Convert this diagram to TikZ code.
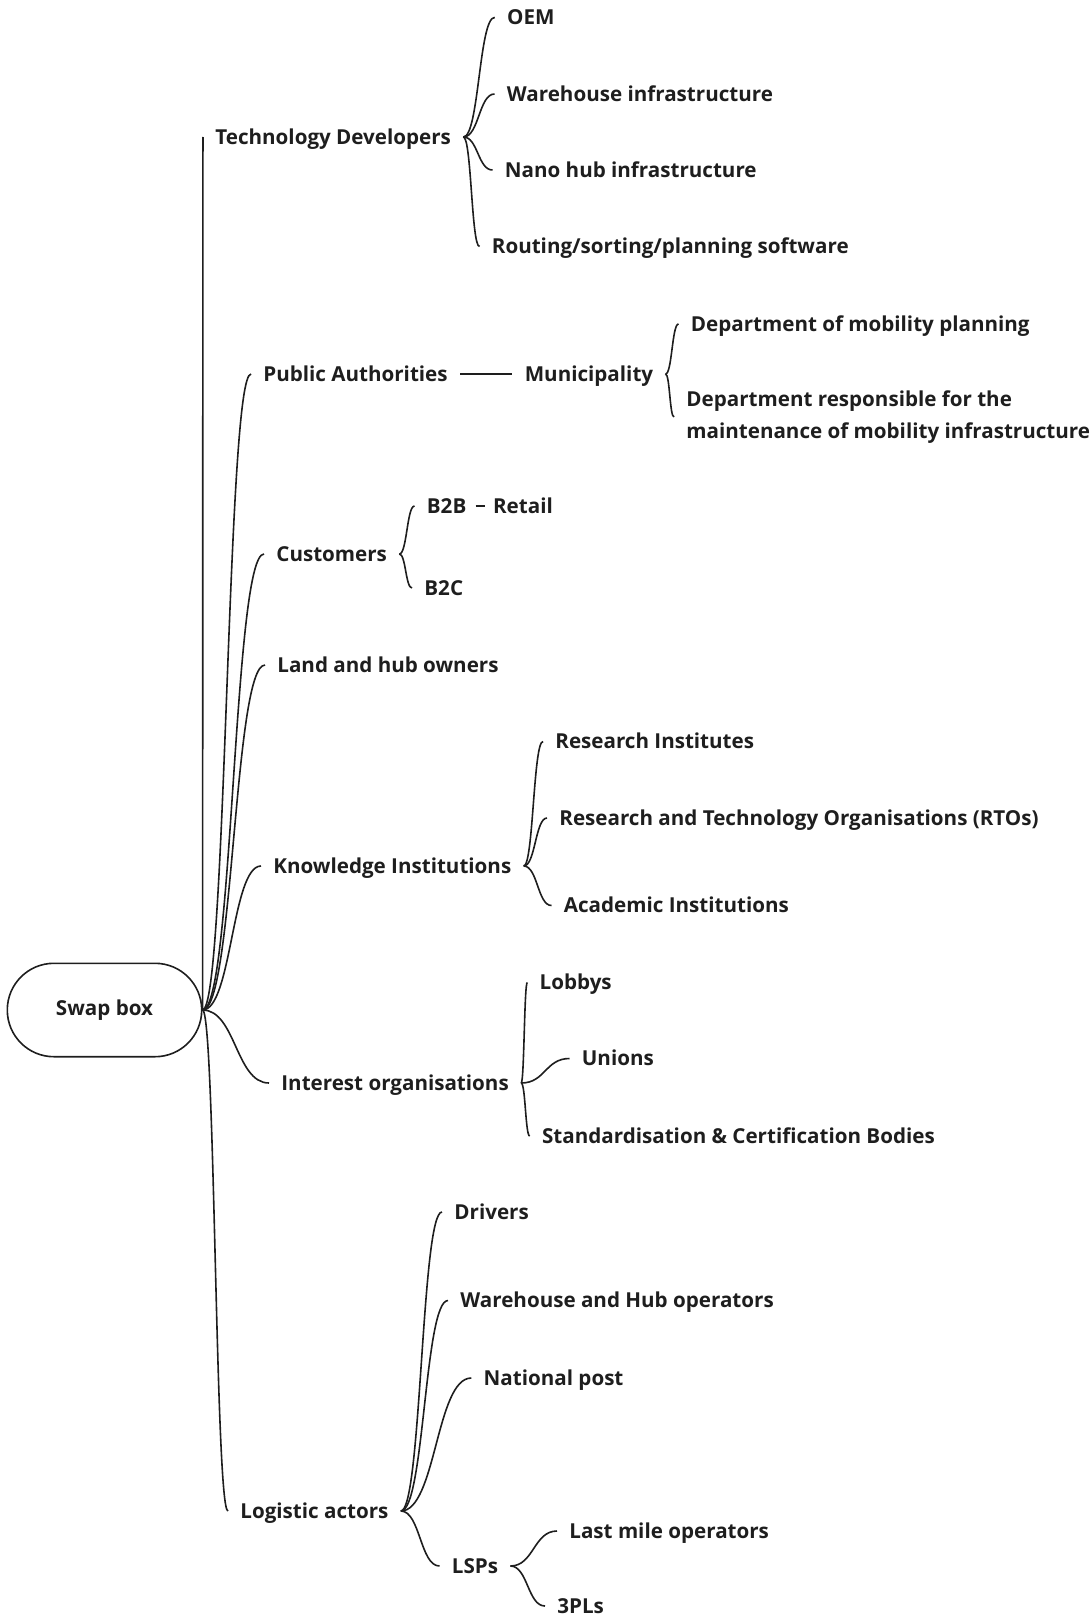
\documentclass[tikz,border=0pt]{standalone}
\usepackage{fontspec}
\setmainfont{Open Sans}
\usetikzlibrary{calc}
\definecolor{ink}{HTML}{1E1E1E}
\begin{document}
\begin{tikzpicture}[x=0.5pt,y=-0.5pt,
  every node/.style={font=\bfseries\fontsize{10.3}{15.6}\selectfont, text=ink},
  lbl/.style={anchor=west, inner xsep=6pt, inner ysep=0pt, text height=7.4pt, text depth=0pt},
  link/.style={draw=ink, line width=0.8pt,
    to path={.. controls ($(\tikztostart)!0.5!(\tikztostart -| \tikztotarget)$) and ($(\tikztotarget)!0.5!(\tikztotarget -| \tikztostart)$) .. (\tikztotarget) \tikztonodes}},
  rootbox/.style={draw=ink, line width=0.8pt, rounded corners=23.3pt, minimum width=97.2pt, minimum height=46.7pt, inner sep=0pt}
]
\useasboundingbox (0,0) rectangle (1091,1616);

\node[rootbox] (root) at (104.5,1010) {Swap box};

% level 1
\node[lbl] (td) at (203,137) {Technology Developers};
\node[lbl] (pa) at (251,374) {Public Authorities};
\node[lbl] (cu) at (264,554) {Customers};
\node[lbl] (lh) at (265,665) {Land and hub owners};
\node[lbl] (ki) at (261,866) {Knowledge Institutions};
\node[lbl] (io) at (269,1083) {Interest organisations};
\node[lbl] (la) at (228,1511) {Logistic actors};

% technology developers
\node[lbl] (oem) at (494.7,17.4) {OEM};
\node[lbl] (wi) at (494.5,94) {Warehouse infrastructure};
\node[lbl] (nh) at (492.5,170) {Nano hub infrastructure};
\node[lbl] (rs) at (479.5,246.5) {Routing/sorting/planning software};

% public authorities
\node[lbl] (mu) at (512.4,374) {Municipality};
\node[lbl] (dmp) at (678.5,324) {Department of mobility planning};
\node[anchor=west, inner xsep=6pt, inner ysep=0pt, align=left] (dres) at (674,417) {Department responsible for the\\maintenance of mobility infrastructure};

% customers
\node[lbl] (b2b) at (414.5,506) {B2B};
\node[lbl, inner xsep=4pt] (ret) at (484.7,506) {Retail};
\node[lbl] (b2c) at (412,588) {B2C};

% knowledge institutions
\node[lbl] (ri) at (543,741.5) {Research Institutes};
\node[lbl] (rto) at (547,818) {Research and Technology Organisations (RTOs)};
\node[lbl] (ai) at (551.5,905.5) {Academic Institutions};

% interest organisations
\node[lbl] (lob) at (527.3,982.5) {Lobbys};
\node[lbl] (uni) at (569.5,1058.5) {Unions};
\node[lbl] (std) at (529.7,1136) {Standardisation \& Certification Bodies};

% logistic actors
\node[lbl] (drv) at (442,1212) {Drivers};
\node[lbl] (who) at (448,1300.5) {Warehouse and Hub operators};
\node[lbl] (np) at (471.3,1378) {National post};
\node[lbl] (lsp) at (439.5,1566) {LSPs};
\node[lbl] (lmo) at (557,1531) {Last mile operators};
\node[lbl] (tpl) at (545,1606) {3PLs};

% connectors
\foreach \c in {td,pa,cu,lh,ki,io,la}
  \draw[link] (root.east) to (\c.west);
\foreach \c in {oem,wi,nh,rs}
  \draw[link] (td.east) to (\c.west);
\draw[link] (pa.east) to (mu.west);
\draw[link] (mu.east) to (dmp.west);
\draw[link] (mu.east) to (dres.west);
\draw[link] ([xshift=-1.5pt]b2b.east) to (ret.west);
\foreach \c in {b2b,b2c}
  \draw[link] (cu.east) to (\c.west);
\foreach \c in {ri,rto,ai}
  \draw[link] (ki.east) to (\c.west);
\foreach \c in {lob,uni,std}
  \draw[link] (io.east) to (\c.west);
\foreach \c in {drv,who,np,lsp}
  \draw[link] (la.east) to (\c.west);
\foreach \c in {lmo,tpl}
  \draw[link] (lsp.east) to (\c.west);
\end{tikzpicture}
\end{document}
